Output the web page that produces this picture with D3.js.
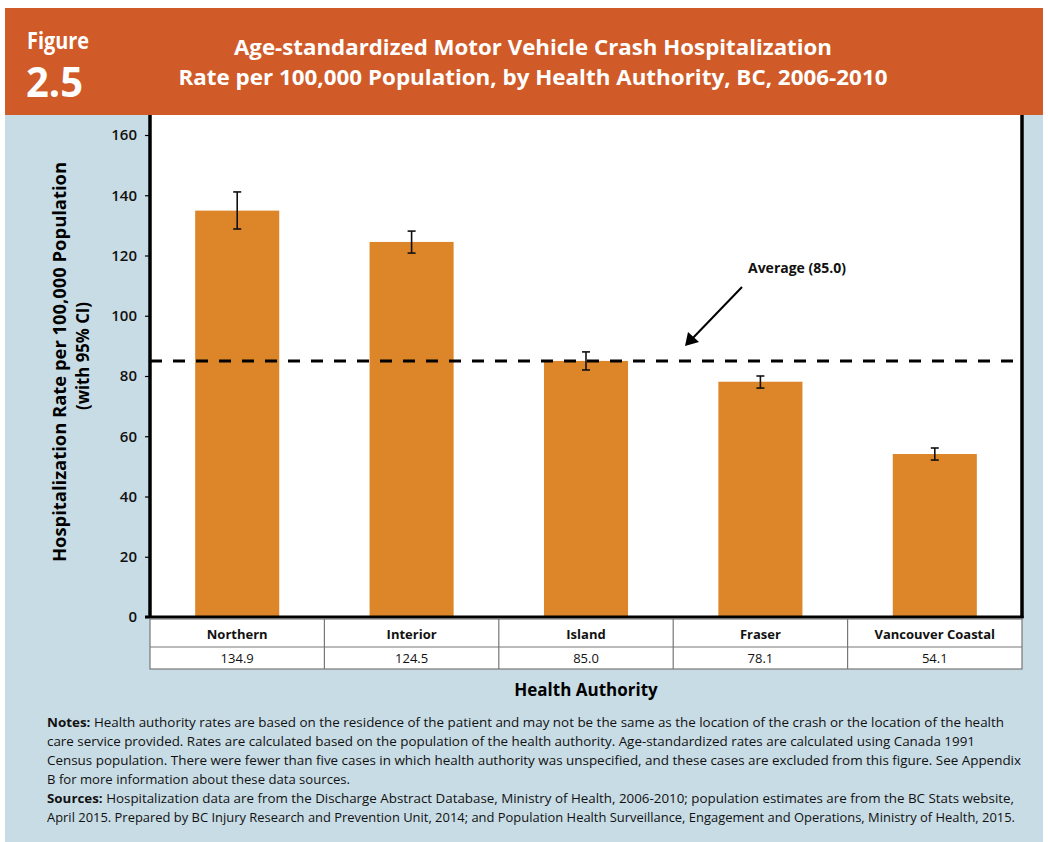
<!DOCTYPE html>
<html>
<head>
<meta charset="utf-8">
<script src="https://cdn.jsdelivr.net/npm/d3@7/dist/d3.min.js"></script>
<style>
  html, body { margin: 0; padding: 0; background: #ffffff; }
  svg { display: block; }
  text { font-family: "Open Sans", "Noto Sans", sans-serif; }
</style>
</head>
<body>
<svg id="chart" width="1048" height="842"></svg>
<script>
// ---- Data ----
const categories = ["Northern", "Interior", "Island", "Fraser", "Vancouver Coastal"];
const rates = [134.9, 124.5, 85.0, 78.1, 54.1];
const ciLower = [128.8, 120.8, 82.0, 76.0, 52.1];
const ciUpper = [141.1, 128.1, 88.0, 80.0, 56.1];
const averageRate = 85.0;
const yTicks = [0, 20, 40, 60, 80, 100, 120, 140, 160];
const titleLines = [
  "Age-standardized Motor Vehicle Crash Hospitalization",
  "Rate per 100,000 Population, by Health Authority, BC, 2006-2010"
];
const yTitleLines = ["Hospitalization Rate per 100,000 Population", "(with 95% CI)"];
const xTitle = "Health Authority";
const noteLines = [
  [{b: "Notes:"}, {t: " Health authority rates are based on the residence of the patient and may not be the same as the location of the crash or the location of the health"}],
  [{t: "care service provided. Rates are calculated based on the population of the health authority. Age-standardized rates are calculated using Canada 1991"}],
  [{t: "Census population. There were fewer than five cases in which health authority was unspecified, and these cases are excluded from this figure. See Appendix"}],
  [{t: "B for more information about these data sources."}],
  [{b: "Sources:"}, {t: " Hospitalization data are from the Discharge Abstract Database, Ministry of Health, 2006-2010; population estimates are from the BC Stats website,"}],
  [{t: "April 2015. Prepared by BC Injury Research and Prevention Unit, 2014; and Population Health Surveillance, Engagement and Operations, Ministry of Health, 2015."}]
];
const noteWidths = [957, 928, 974, 303, 967, 968];

// ---- Layout ----
const svg = d3.select("#chart");
const plot = {left: 150, right: 1022, top: 115, bottom: 617};
const orange = "#D05B28", panel = "#C8DCE5", barColor = "#DC8629";

// Panel & header
svg.append("rect").attr("x", 5).attr("y", 115).attr("width", 1038).attr("height", 727).attr("fill", panel);
svg.append("rect").attr("x", 5).attr("y", 8).attr("width", 1038).attr("height", 107).attr("fill", orange);

svg.append("text").attr("x", 27).attr("y", 49).attr("fill", "#fff")
  .attr("font-size", 24).attr("font-weight", 700).attr("textLength", 62).attr("lengthAdjust", "spacingAndGlyphs").text("Figure");
svg.append("text").attr("x", 26).attr("y", 97).attr("fill", "#fff")
  .attr("font-size", 42).attr("font-weight", 700).attr("textLength", 57).attr("lengthAdjust", "spacingAndGlyphs").text("2.5");

svg.selectAll(".title").data(titleLines).join("text")
  .attr("class", "title")
  .attr("x", 533).attr("y", (d, i) => 55 + i * 30)
  .attr("text-anchor", "middle").attr("fill", "#fff")
  .attr("font-size", 21).attr("font-weight", 700)
  .attr("textLength", (d, i) => i === 0 ? 598 : 709).attr("lengthAdjust", "spacingAndGlyphs")
  .text(d => d);

// Plot background
svg.append("rect").attr("x", plot.left).attr("y", plot.top)
  .attr("width", plot.right - plot.left).attr("height", plot.bottom - plot.top).attr("fill", "#fff");

// Scales
const x = d3.scaleBand().domain(categories).range([plot.left, plot.right]).paddingInner(0.518).paddingOuter(0.259);
const y = d3.scaleLinear().domain([0, 160]).range([plot.bottom, 135]);

// Bars
svg.selectAll(".bar").data(categories).join("rect")
  .attr("class", "bar")
  .attr("x", d => x(d)).attr("width", x.bandwidth())
  .attr("y", (d, i) => y(rates[i])).attr("height", (d, i) => y(0) - y(rates[i]))
  .attr("fill", barColor);

// Error bars
const eg = svg.append("g").attr("stroke", "#111").attr("stroke-width", 1.6);
categories.forEach((c, i) => {
  const cx = x(c) + x.bandwidth() / 2;
  eg.append("line").attr("x1", cx).attr("x2", cx).attr("y1", y(ciLower[i])).attr("y2", y(ciUpper[i]));
  eg.append("line").attr("x1", cx - 4).attr("x2", cx + 4).attr("y1", y(ciLower[i])).attr("y2", y(ciLower[i]));
  eg.append("line").attr("x1", cx - 4).attr("x2", cx + 4).attr("y1", y(ciUpper[i])).attr("y2", y(ciUpper[i]));
});

// Average line
svg.append("line").attr("x1", plot.left).attr("x2", plot.right)
  .attr("y1", y(averageRate)).attr("y2", y(averageRate))
  .attr("stroke", "#000").attr("stroke-width", 3).attr("stroke-dasharray", "12,11");

// Arrow annotation
svg.append("line").attr("x1", 742).attr("y1", 287).attr("x2", 690).attr("y2", 341)
  .attr("stroke", "#000").attr("stroke-width", 2);
svg.append("path")
  .attr("d", "M685,346 L688,332 L699,342 Z").attr("fill", "#000");
svg.append("text").attr("x", 748).attr("y", 273)
  .attr("font-size", 14).attr("font-weight", 700).attr("fill", "#111").text("Average (" + averageRate.toFixed(1) + ")");

// Y axis
const yAxis = d3.axisLeft(y).tickValues(yTicks).tickSize(5).tickPadding(8);
const yg = svg.append("g").attr("transform", `translate(${plot.left},0)`).call(yAxis);
yg.select(".domain").remove();
yg.selectAll(".tick line").attr("stroke", "#000").attr("stroke-width", 1.2);
yg.selectAll(".tick text").attr("font-size", 15).attr("font-weight", 600).attr("fill", "#111")
  .attr("font-family", "'Open Sans', sans-serif");

// Frame lines
svg.append("line").attr("x1", plot.left).attr("x2", plot.left).attr("y1", plot.top).attr("y2", plot.bottom + 1)
  .attr("stroke", "#000").attr("stroke-width", 3.5);
svg.append("line").attr("x1", plot.right).attr("x2", plot.right).attr("y1", plot.top).attr("y2", plot.bottom + 1)
  .attr("stroke", "#000").attr("stroke-width", 3.5);
svg.append("line").attr("x1", 145).attr("x2", plot.right + 1.5).attr("y1", plot.bottom).attr("y2", plot.bottom)
  .attr("stroke", "#000").attr("stroke-width", 3);

// Data table
const tTop = 619, tMid = 647, tBot = 669;
const tg = svg.append("g");
tg.append("rect").attr("x", plot.left).attr("y", tTop).attr("width", plot.right - plot.left).attr("height", tBot - tTop)
  .attr("fill", "#fff").attr("stroke", "#777").attr("stroke-width", 1.2);
tg.append("line").attr("x1", plot.left).attr("x2", plot.right).attr("y1", tMid).attr("y2", tMid)
  .attr("stroke", "#777").attr("stroke-width", 1.2);
categories.slice(1).forEach(c => {
  const bx = x(c) - x.step() * x.paddingInner() / 2;
  tg.append("line").attr("x1", bx).attr("x2", bx).attr("y1", tTop).attr("y2", tBot)
    .attr("stroke", "#777").attr("stroke-width", 1.2);
});
tg.selectAll(".cat").data(categories).join("text").attr("class", "cat")
  .attr("x", d => x(d) + x.bandwidth() / 2).attr("y", 639)
  .attr("text-anchor", "middle").attr("font-size", 13).attr("font-weight", 700).attr("fill", "#111")
  .text(d => d);
tg.selectAll(".val").data(rates).join("text").attr("class", "val")
  .attr("x", (d, i) => x(categories[i]) + x.bandwidth() / 2).attr("y", 663)
  .attr("text-anchor", "middle").attr("font-size", 13).attr("fill", "#111")
  .text(d => d.toFixed(1));

// Axis titles
svg.append("text").attr("x", 586).attr("y", 696).attr("text-anchor", "middle")
  .attr("font-size", 17).attr("font-weight", 700).attr("fill", "#000").text(xTitle);
const yTitlePos = [{x: 66, y: 362, len: 400}, {x: 89, y: 356, len: 108}];
svg.selectAll(".ytitle").data(yTitleLines).join("text").attr("class", "ytitle")
  .attr("transform", (d, i) => `translate(${yTitlePos[i].x},${yTitlePos[i].y}) rotate(-90)`)
  .attr("text-anchor", "middle").attr("font-size", 18).attr("font-weight", 700).attr("fill", "#000")
  .attr("textLength", (d, i) => yTitlePos[i].len).attr("lengthAdjust", "spacingAndGlyphs")
  .text(d => d);

// Notes
const ng = svg.append("g");
noteLines.forEach((parts, i) => {
  const t = ng.append("text").attr("x", 47).attr("y", 727 + i * 19)
    .attr("font-size", 13).attr("fill", "#111")
    .attr("textLength", noteWidths[i]).attr("lengthAdjust", "spacingAndGlyphs");
  parts.forEach(p => {
    if (p.b) t.append("tspan").attr("font-weight", 700).text(p.b);
    else t.append("tspan").text(p.t);
  });
});
</script>
</body>
</html>
